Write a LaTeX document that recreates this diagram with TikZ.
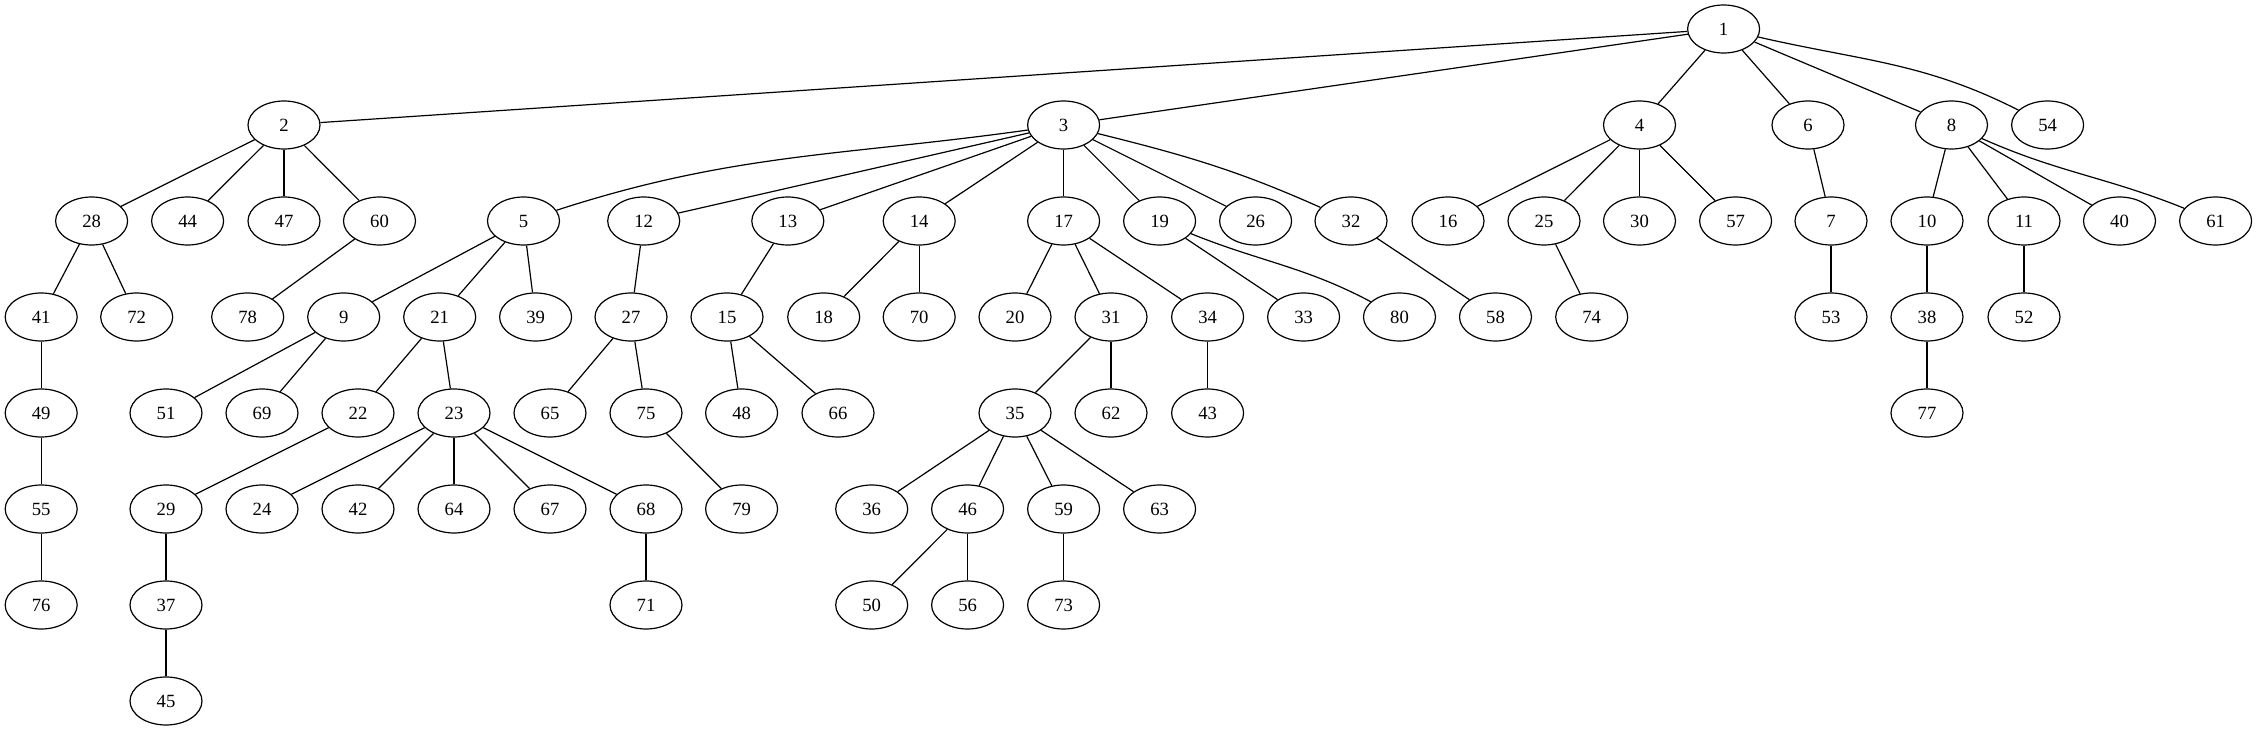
\documentclass[tikz,border=0pt]{standalone}
\usepackage{fontspec}
\setmainfont{Liberation Serif}
\usetikzlibrary{shapes.geometric}

\begin{document}
\begin{tikzpicture}[x=0.75pt,y=-0.75pt,
  vertex/.style={draw, ellipse, line width=0.9pt, minimum width=54pt, minimum height=36pt, inner sep=0pt, font=\fontsize{14pt}{16pt}\selectfont},
  link/.style={line width=0.9pt}]
\useasboundingbox (0,0) rectangle (2257,731);

% rank 0
\node[vertex] (n1) at (1723.6,29) {1};
% rank 1
\node[vertex] (n2) at (284,125) {2};
\node[vertex] (n3) at (1063.6,125) {3};
\node[vertex] (n4) at (1639.5,125) {4};
\node[vertex] (n6) at (1808,125) {6};
\node[vertex] (n8) at (1951.5,125) {8};
\node[vertex] (n54) at (2047.6,125) {54};
% rank 2
\node[vertex] (n28) at (91.6,221) {28};
\node[vertex] (n44) at (187.6,221) {44};
\node[vertex] (n47) at (284,221) {47};
\node[vertex] (n60) at (379.5,221) {60};
\node[vertex] (n5) at (523.5,221) {5};
\node[vertex] (n12) at (643.7,221) {12};
\node[vertex] (n13) at (787.8,221) {13};
\node[vertex] (n14) at (919.2,221) {14};
\node[vertex] (n17) at (1063.6,221) {17};
\node[vertex] (n19) at (1159.6,221) {19};
\node[vertex] (n26) at (1255.6,221) {26};
\node[vertex] (n32) at (1351,221) {32};
\node[vertex] (n16) at (1448,221) {16};
\node[vertex] (n25) at (1544,221) {25};
\node[vertex] (n30) at (1639.5,221) {30};
\node[vertex] (n57) at (1735.6,221) {57};
\node[vertex] (n7) at (1831,221) {7};
\node[vertex] (n10) at (1927,221) {10};
\node[vertex] (n11) at (2024,221) {11};
\node[vertex] (n40) at (2119.5,221) {40};
\node[vertex] (n61) at (2215.6,221) {61};
% rank 3
\node[vertex] (n41) at (41.2,317) {41};
\node[vertex] (n72) at (136.7,317) {72};
\node[vertex] (n78) at (247.7,317) {78};
\node[vertex] (n9) at (343.7,317) {9};
\node[vertex] (n21) at (439.7,317) {21};
\node[vertex] (n39) at (535.6,317) {39};
\node[vertex] (n27) at (631,317) {27};
\node[vertex] (n15) at (727,317) {15};
\node[vertex] (n18) at (823.7,317) {18};
\node[vertex] (n70) at (919.2,317) {70};
\node[vertex] (n20) at (1015,317) {20};
\node[vertex] (n31) at (1111,317) {31};
\node[vertex] (n34) at (1207.6,317) {34};
\node[vertex] (n33) at (1303.6,317) {33};
\node[vertex] (n80) at (1399.5,317) {80};
\node[vertex] (n58) at (1495.5,317) {58};
\node[vertex] (n74) at (1591.7,317) {74};
\node[vertex] (n53) at (1831,317) {53};
\node[vertex] (n38) at (1927,317) {38};
\node[vertex] (n52) at (2024,317) {52};
% rank 4
\node[vertex] (n49) at (41.2,413) {49};
\node[vertex] (n51) at (166,413) {51};
\node[vertex] (n69) at (262,413) {69};
\node[vertex] (n22) at (358,413) {22};
\node[vertex] (n23) at (454,413) {23};
\node[vertex] (n65) at (550,413) {65};
\node[vertex] (n75) at (646,413) {75};
\node[vertex] (n48) at (741.6,413) {48};
\node[vertex] (n66) at (838,413) {66};
\node[vertex] (n35) at (1015,413) {35};
\node[vertex] (n62) at (1111,413) {62};
\node[vertex] (n43) at (1207.6,413) {43};
\node[vertex] (n77) at (1927,413) {77};
% rank 5
\node[vertex] (n55) at (41.2,509) {55};
\node[vertex] (n29) at (166,509) {29};
\node[vertex] (n24) at (262,509) {24};
\node[vertex] (n42) at (358,509) {42};
\node[vertex] (n64) at (454,509) {64};
\node[vertex] (n67) at (550,509) {67};
\node[vertex] (n68) at (646,509) {68};
\node[vertex] (n79) at (741.6,509) {79};
\node[vertex] (n36) at (871.7,509) {36};
\node[vertex] (n46) at (967.6,509) {46};
\node[vertex] (n59) at (1063.6,509) {59};
\node[vertex] (n63) at (1159.6,509) {63};
% rank 6
\node[vertex] (n76) at (41.2,605) {76};
\node[vertex] (n37) at (166,605) {37};
\node[vertex] (n71) at (646,605) {71};
\node[vertex] (n50) at (871.7,605) {50};
\node[vertex] (n56) at (967.6,605) {56};
\node[vertex] (n73) at (1063.6,605) {73};
% rank 7
\node[vertex] (n45) at (166,701) {45};

% edges
\draw[link] (n1) -- (n2);
\draw[link] (n1) -- (n3);
\draw[link] (n1) -- (n4);
\draw[link] (n1) -- (n6);
\draw[link] (n1) -- (n8);
\draw[link] (n1) to[out=-13,in=153] (n54);
\draw[link] (n2) -- (n28);
\draw[link] (n2) -- (n44);
\draw[link] (n2) -- (n47);
\draw[link] (n2) -- (n60);
\draw[link] (n3) to[out=188,in=18] (n5);
\draw[link] (n3) -- (n12);
\draw[link] (n3) -- (n13);
\draw[link] (n3) -- (n14);
\draw[link] (n3) -- (n17);
\draw[link] (n3) -- (n19);
\draw[link] (n3) -- (n26);
\draw[link] (n3) to[out=-14,in=156] (n32);
\draw[link] (n4) -- (n16);
\draw[link] (n4) -- (n25);
\draw[link] (n4) -- (n30);
\draw[link] (n4) -- (n57);
\draw[link] (n6) -- (n7);
\draw[link] (n8) -- (n10);
\draw[link] (n8) -- (n11);
\draw[link] (n8) -- (n40);
\draw[link] (n8) to[out=-24,in=158] (n61);
\draw[link] (n28) -- (n41);
\draw[link] (n28) -- (n72);
\draw[link] (n60) -- (n78);
\draw[link] (n5) -- (n9);
\draw[link] (n5) -- (n21);
\draw[link] (n5) -- (n39);
\draw[link] (n12) -- (n27);
\draw[link] (n13) -- (n15);
\draw[link] (n14) -- (n18);
\draw[link] (n14) -- (n70);
\draw[link] (n17) -- (n20);
\draw[link] (n17) -- (n31);
\draw[link] (n17) -- (n34);
\draw[link] (n19) -- (n33);
\draw[link] (n19) to[out=-22,in=152] (n80);
\draw[link] (n32) -- (n58);
\draw[link] (n25) -- (n74);
\draw[link] (n7) -- (n53);
\draw[link] (n10) -- (n38);
\draw[link] (n11) -- (n52);
\draw[link] (n41) -- (n49);
\draw[link] (n9) -- (n51);
\draw[link] (n9) -- (n69);
\draw[link] (n21) -- (n22);
\draw[link] (n21) -- (n23);
\draw[link] (n27) -- (n65);
\draw[link] (n27) -- (n75);
\draw[link] (n15) -- (n48);
\draw[link] (n15) -- (n66);
\draw[link] (n31) -- (n35);
\draw[link] (n31) -- (n62);
\draw[link] (n34) -- (n43);
\draw[link] (n38) -- (n77);
\draw[link] (n49) -- (n55);
\draw[link] (n22) -- (n29);
\draw[link] (n23) -- (n24);
\draw[link] (n23) -- (n42);
\draw[link] (n23) -- (n64);
\draw[link] (n23) -- (n67);
\draw[link] (n23) -- (n68);
\draw[link] (n75) -- (n79);
\draw[link] (n35) -- (n36);
\draw[link] (n35) -- (n46);
\draw[link] (n35) -- (n59);
\draw[link] (n35) -- (n63);
\draw[link] (n55) -- (n76);
\draw[link] (n29) -- (n37);
\draw[link] (n68) -- (n71);
\draw[link] (n46) -- (n50);
\draw[link] (n46) -- (n56);
\draw[link] (n59) -- (n73);
\draw[link] (n37) -- (n45);
\end{tikzpicture}
\end{document}
